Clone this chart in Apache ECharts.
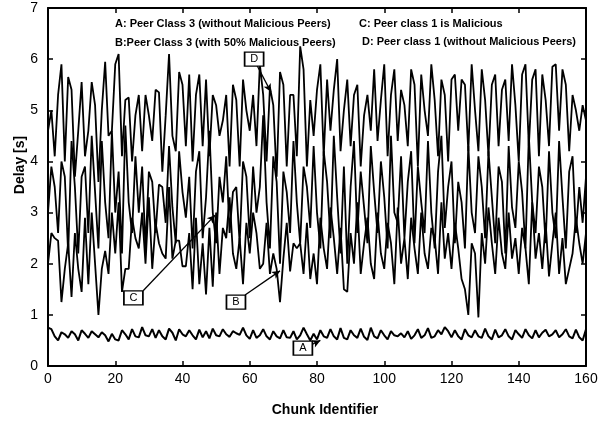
<!DOCTYPE html>
<html>
<head>
<meta charset="utf-8">
<script src="https://cdn.jsdelivr.net/npm/echarts@6/dist/echarts.min.js"></script>
<style>html,body{margin:0;padding:0;background:#fff}#c{width:612px;height:424px}</style>
</head>
<body>
<div id="c"></div>
<script>
const chunkIds = Array.from({length:161},(_, i)=>i);
const xTicks = [0,20,40,60,80,100,120,140,160];
const yTicks = [0,1,2,3,4,5,6,7];

const seriesA = [
0.75,0.72,0.58,0.50,0.66,0.62,0.55,0.68,0.62,0.50,
0.70,0.63,0.55,0.68,0.62,0.56,0.66,0.60,0.48,0.63,
0.52,0.50,0.70,0.62,0.52,0.72,0.58,0.56,0.76,0.60,
0.58,0.72,0.55,0.70,0.58,0.52,0.73,0.65,0.50,0.72,
0.62,0.58,0.70,0.60,0.52,0.71,0.56,0.68,0.54,0.73,
0.60,0.58,0.72,0.62,0.57,0.68,0.64,0.61,0.75,0.60,
0.53,0.70,0.55,0.60,0.72,0.58,0.52,0.68,0.58,0.54,
0.70,0.56,0.55,0.68,0.52,0.60,0.75,0.62,0.50,0.63,
0.52,0.70,0.58,0.55,0.72,0.58,0.52,0.74,0.55,0.52,
0.70,0.60,0.55,0.73,0.57,0.51,0.75,0.58,0.54,0.70,
0.60,0.52,0.68,0.60,0.58,0.64,0.56,0.68,0.53,0.60,
0.72,0.55,0.60,0.74,0.55,0.58,0.70,0.62,0.76,0.68,
0.56,0.70,0.58,0.52,0.72,0.60,0.56,0.70,0.58,0.55,
0.73,0.58,0.52,0.71,0.56,0.60,0.72,0.58,0.52,0.70,
0.62,0.55,0.72,0.60,0.54,0.70,0.56,0.65,0.71,0.58,
0.62,0.70,0.56,0.62,0.72,0.58,0.54,0.71,0.56,0.50,
0.72];

const seriesB = [
3.0,3.9,3.5,2.6,4.0,3.7,2.2,4.4,3.5,2.2,
3.7,3.9,2.6,4.5,3.4,2.3,4.4,3.2,2.5,4.6,
3.0,3.8,2.2,4.7,3.2,2.6,4.1,3.0,3.9,2.3,
3.8,3.6,2.6,3.55,3.5,2.8,4.3,3.1,2.4,4.2,
3.4,2.9,3.7,2.3,3.8,4.2,2.5,3.3,4.6,3.0,
2.4,3.7,3.2,4.1,2.6,3.4,3.5,2.4,4.0,3.7,
2.5,3.9,3.0,3.5,4.9,3.2,2.3,4.1,3.6,2.0,
3.8,3.4,2.6,4.4,3.2,2.4,3.9,3.5,2.7,4.3,
3.0,2.3,4.2,3.6,2.5,4.5,3.3,2.2,3.9,2.0,
3.5,4.4,2.6,3.8,3.1,2.4,4.3,3.4,2.6,4.0,
3.3,2.3,4.5,3.0,2.8,4.1,2.5,3.6,4.2,2.4,
3.9,3.2,2.6,4.4,3.0,2.3,3.8,4.5,2.7,3.5,
4.0,2.4,3.6,3.2,2.3,4.3,3.0,2.6,4.1,3.5,
2.5,4.2,3.3,2.4,3.9,3.6,2.2,4.3,3.1,2.7,
4.0,3.4,2.3,4.5,3.2,2.6,3.9,3.5,2.4,4.2,
3.0,2.5,4.4,3.3,2.3,3.8,4.1,2.6,3.5,2.8,
3.7];

const seriesC = [
2.0,2.6,2.5,2.45,1.25,1.9,2.4,1.35,2.6,1.9,
1.45,2.9,1.6,3.0,2.0,1.0,1.9,2.25,1.8,3.0,
2.2,3.2,1.45,1.9,1.9,2.9,2.5,2.3,3.0,2.0,
3.3,1.9,2.8,2.4,2.2,2.1,3.5,2.1,2.45,2.45,
1.95,1.95,2.6,1.5,2.9,1.6,2.4,1.4,2.7,1.55,
3.0,1.8,2.7,2.5,3.3,2.2,1.9,2.5,1.6,2.8,
2.2,3.0,2.6,1.9,2.0,2.8,1.8,2.2,1.9,1.25,
2.1,2.8,1.85,2.4,2.3,2.4,1.8,2.8,1.7,2.2,
1.6,2.9,2.3,1.9,3.1,2.5,1.8,2.7,1.5,1.45,
2.6,2.0,3.2,1.8,2.4,2.9,2.0,1.7,3.0,2.2,
1.9,2.8,2.4,1.6,3.1,2.0,2.5,1.7,2.9,2.3,
1.8,3.0,2.2,1.9,2.7,2.5,1.8,3.2,2.1,2.6,
1.9,2.8,2.3,1.7,1.5,1.0,2.4,2.2,0.95,2.6,
2.0,3.1,2.4,1.8,2.9,2.2,1.9,3.0,2.1,2.5,
1.8,2.7,2.3,1.6,3.2,2.1,2.6,1.9,2.8,1.75,
2.4,3.0,1.8,2.5,1.6,1.9,2.2,2.9,2.4,2.0,
2.6];

const seriesD = [
4.6,5.0,4.1,5.3,5.9,4.0,5.65,5.4,3.7,4.6,
5.55,4.1,4.6,5.55,5.1,3.6,5.0,5.95,4.5,4.6,
5.9,6.1,4.1,5.2,5.25,4.0,4.9,5.3,4.2,5.3,
4.9,4.4,5.4,5.35,3.8,4.9,6.1,4.5,4.2,5.75,
5.5,4.3,5.7,4.0,5.3,5.7,4.3,5.6,4.1,5.3,
5.1,4.5,4.8,5.3,3.9,5.5,5.2,3.9,5.6,5.0,
4.6,5.3,4.3,5.9,5.3,4.0,5.45,5.1,3.7,5.75,
5.5,3.9,5.3,5.3,4.1,6.25,5.8,3.9,5.2,4.5,
5.4,5.9,4.1,5.6,4.6,5.4,6.0,4.2,5.0,5.6,
4.3,5.3,5.5,3.9,4.9,5.3,4.6,5.8,4.4,5.2,
5.9,4.1,5.3,5.8,4.4,5.4,5.1,4.3,5.8,5.5,
3.9,5.7,5.0,4.5,5.9,5.2,4.1,5.6,5.3,4.0,
5.6,5.7,4.6,5.6,5.5,4.2,5.9,5.0,4.2,5.8,
5.2,4.1,5.5,5.7,4.3,5.4,5.6,4.4,5.9,5.1,
4.0,5.7,5.9,4.3,5.6,5.8,4.1,5.7,5.2,4.3,
5.85,5.9,4.6,5.8,5.5,4.2,5.3,5.0,4.6,5.1,
4.8];

const legendLines = [
  'A: Peer Class 3 (without Malicious Peers)',
  'B:Peer Class 3 (with 50% Malicious Peers)',
  'C: Peer class 1 is Malicious',
  'D: Peer class 1 (without Malicious Peers)'
];
const boxLabels = ['A','B','C','D'];

const pair = arr => arr.map((v,i)=>[chunkIds[i], v]);
const FONT = '"Liberation Sans", Arial, sans-serif';

const lineSeries = (name, arr, w) => ({
  name, type:'line', data: pair(arr), symbol:'none', animation:false,
  lineStyle:{color:'#000', width:w}, itemStyle:{color:'#000'}, z:2
});

const chart = echarts.init(document.getElementById('c'), null, {renderer:'canvas'});
const axisCommon = {
  axisLine:{show:true, onZero:false, lineStyle:{color:'#000', width:2}},
  axisTick:{show:true, inside:true, length:5, lineStyle:{color:'#000', width:1.5}},
  splitLine:{show:false}
};
chart.setOption({
  animation:false,
  backgroundColor:'#fff',
  grid:{left:48, right:26, top:8, bottom:58, containLabel:false},
  xAxis:[
    Object.assign({type:'value', min:xTicks[0], max:xTicks[xTicks.length-1], interval:20, position:'bottom',
      axisLabel:{color:'#000', fontSize:14, fontFamily:FONT, margin:6}}, axisCommon),
    Object.assign({type:'value', min:xTicks[0], max:xTicks[xTicks.length-1], interval:20, position:'top',
      axisLabel:{show:false}}, axisCommon)
  ],
  yAxis:[
    Object.assign({type:'value', min:yTicks[0], max:yTicks[yTicks.length-1], interval:1, position:'left',
      axisLabel:{color:'#000', fontSize:14, fontFamily:FONT, margin:10}}, axisCommon),
    Object.assign({type:'value', min:yTicks[0], max:yTicks[yTicks.length-1], interval:1, position:'right',
      axisLabel:{show:false}}, axisCommon)
  ],
  series:[
    lineSeries('D', seriesD, 1.8),
    lineSeries('B', seriesB, 1.8),
    lineSeries('C', seriesC, 1.8),
    lineSeries('A', seriesA, 2),
    {
      type:'line', data:[], z:5, silent:true,
      markLine:{
        silent:true, symbol:['none','arrow'], symbolSize:[6,8],
        lineStyle:{color:'#000', width:1.3, type:'solid'}, label:{show:false},
        data:[
          [{coord:[62.2,5.87]},{coord:[66.3,5.36]}],
          [{coord:[28.3,1.47]},{coord:[49.7,2.95]}],
          [{coord:[58.6,1.39]},{coord:[69.0,1.86]}],
          [{coord:[78.5,0.42]},{coord:[81.0,0.50]}]
        ]
      },
      markPoint:{
        silent:true, symbol:'rect', symbolSize:[19,14],
        itemStyle:{color:'#fff', borderColor:'#000', borderWidth:1.5},
        label:{show:true, position:'inside', color:'#000', fontSize:11, fontFamily:FONT},
        data:[
          {coord:[75.8,0.35], value:boxLabels[0]},
          {coord:[55.9,1.25], value:boxLabels[1]},
          {coord:[25.4,1.33], value:boxLabels[2]},
          {coord:[61.3,6.0], value:boxLabels[3]}
        ]
      }
    }
  ],
  graphic:[
    {type:'text', x:115, y:24, style:{text:legendLines[0], font:'bold 11px '+FONT, fill:'#000', verticalAlign:'middle'}},
    {type:'text', x:115, y:42.5, style:{text:legendLines[1], font:'bold 11px '+FONT, fill:'#000', verticalAlign:'middle'}},
    {type:'text', x:359, y:23.5, style:{text:legendLines[2], font:'bold 11px '+FONT, fill:'#000', verticalAlign:'middle'}},
    {type:'text', x:362, y:42, style:{text:legendLines[3], font:'bold 11px '+FONT, fill:'#000', verticalAlign:'middle'}},
    {type:'text', x:20, y:165, rotation:Math.PI/2,
      style:{text:'Delay [s]', font:'bold 14px '+FONT, fill:'#000', align:'center', verticalAlign:'middle'}},
    {type:'text', x:325, y:410,
      style:{text:'Chunk Identifier', font:'bold 14px '+FONT, fill:'#000', align:'center', verticalAlign:'middle'}}
  ]
});
</script>
</body>
</html>
